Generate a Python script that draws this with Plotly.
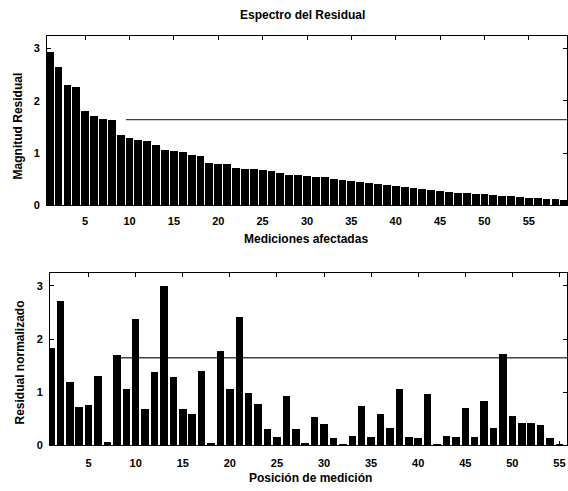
import plotly.graph_objects as go

# Espectro del residual: magnitudes ordenadas de mayor a menor
espectro = [2.95, 2.65, 2.31, 2.28, 1.81, 1.72, 1.66, 1.64, 1.36, 1.30,
            1.26, 1.25, 1.16, 1.07, 1.05, 1.04, 0.97, 0.96, 0.82, 0.81,
            0.80, 0.72, 0.71, 0.70, 0.68, 0.66, 0.62, 0.60, 0.59, 0.57,
            0.56, 0.55, 0.52, 0.50, 0.48, 0.46, 0.43, 0.42, 0.40, 0.38,
            0.36, 0.34, 0.32, 0.30, 0.28, 0.27, 0.25, 0.24, 0.23, 0.22,
            0.20, 0.19, 0.18, 0.17, 0.16, 0.15, 0.14, 0.13, 0.12]
mediciones = list(range(1, len(espectro) + 1))

# Residual normalizado por posición de medición
residual_norm = [1.84, 2.72, 1.21, 0.73, 0.77, 1.31, 0.07, 1.70, 1.06, 2.39,
                 0.70, 1.38, 3.01, 1.30, 0.70, 0.60, 1.40, 0.05, 1.78, 1.07,
                 2.43, 1.00, 0.79, 0.31, 0.17, 0.93, 0.31, 0.05, 0.54, 0.41,
                 0.14, 0.03, 0.19, 0.75, 0.17, 0.60, 0.33, 1.07, 0.17, 0.14,
                 0.98, 0.04, 0.19, 0.17, 0.72, 0.16, 0.84, 0.33, 1.73, 0.56,
                 0.43, 0.43, 0.40, 0.15, 0.04]
posiciones = list(range(1, len(residual_norm) + 1))

umbral_espectro = 1.64
umbral_residual = 1.65

x_ticks = [5, 10, 15, 20, 25, 30, 35, 40, 45, 50, 55]
y_ticks = [0, 1, 2, 3]

W, H = 568, 491
FONT = "Liberation Sans, Arial, sans-serif"


def py(px):
    return 1 - px / H


fig = go.Figure()

fig.add_trace(go.Bar(x=mediciones, y=espectro, width=0.88,
                     marker=dict(color="black", line=dict(width=0)),
                     xaxis="x", yaxis="y"))
fig.add_trace(go.Bar(x=posiciones, y=residual_norm, width=0.8,
                     marker=dict(color="black", line=dict(width=0)),
                     xaxis="x2", yaxis="y2"))

axis_common = dict(
    ticks="inside", ticklen=4, tickwidth=1, tickcolor="black",
    showline=True, linecolor="black", linewidth=1, mirror="ticks",
    showgrid=False, zeroline=False,
    tickfont=dict(family=FONT, size=11, color="black", weight="bold"),
)

fig.update_layout(
    width=W, height=H,
    margin=dict(l=0, r=0, t=0, b=0),
    paper_bgcolor="white", plot_bgcolor="white",
    showlegend=False, bargap=0,
    xaxis=dict(domain=[47 / W, 567 / W], range=[0.7, 59.3],
               tickvals=x_ticks, anchor="y", ticklabelstandoff=5,
               **axis_common),
    yaxis=dict(domain=[py(208), py(36)], range=[0, 3.25],
               tickvals=y_ticks, anchor="x", ticklabelstandoff=4,
               **axis_common),
    xaxis2=dict(domain=[50 / W, 567 / W], range=[0.9, 55.8],
                tickvals=x_ticks, anchor="y2", ticklabelstandoff=7,
                **axis_common),
    yaxis2=dict(domain=[py(451), py(276)], range=[0, 3.25],
                tickvals=y_ticks, anchor="x2", ticklabelstandoff=4,
                **axis_common),
)

# Líneas de umbral (debajo de las barras)
fig.add_shape(type="line", xref="x", yref="y", layer="below",
              x0=9.6, x1=len(espectro) + 0.5,
              y0=umbral_espectro, y1=umbral_espectro,
              line=dict(color="#444444", width=1.3))
fig.add_shape(type="line", xref="x2", yref="y2", layer="below",
              x0=7.6, x1=len(residual_norm) + 1,
              y0=umbral_residual, y1=umbral_residual,
              line=dict(color="#444444", width=1.3))

title_font = dict(family=FONT, size=12, color="black", weight="bold")

textos = [
    ("Espectro del Residual", 302, 15, 0),
    ("Mediciones afectadas", 306, 242, 0),
    ("Posición de medición", 310, 484, 0),
    ("Magnitud Residual", 18, 128, -90),
    ("Residual normalizado", 20, 367, -90),
]
for texto, x, y, ang in textos:
    fig.add_annotation(text=texto, xref="paper", yref="paper",
                       x=x / W, y=py(y), showarrow=False, textangle=ang,
                       xanchor="center", yanchor="middle", font=title_font)

fig.write_html("out.html")
